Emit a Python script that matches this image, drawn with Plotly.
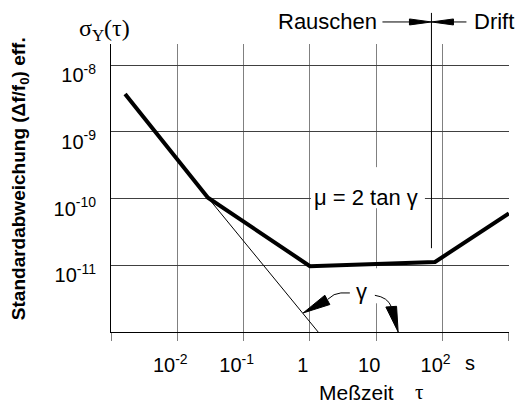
import math
import plotly.graph_objects as go

# ---- data ----
tau_curve = [0.00163, 0.029, 1.0, 77.0, 1000.0]
sigma_curve = [3.67e-9, 1.03e-10, 9.7e-12, 1.12e-11, 6.0e-11]
tau_asym = [0.029, 1.33]
sigma_asym = [1.03e-10, 1.0e-12]

x_tickvals = [1e-3, 1e-2, 1e-1, 1, 10, 100, 1000]
x_ticktext = ["", "10<sup>-2</sup>", "10<sup>-1</sup>", "1", "10", "10<sup>2</sup>", ""]
y_tickvals = [1e-12, 1e-11, 1e-10, 1e-9, 1e-8]
y_ticktext = ["", "10<sup>-11</sup>", "10<sup>-10</sup>", "10<sup>-9</sup>", "10<sup>-8</sup>"]

tau_boundary = 68.0   # Rauschen / Drift boundary
tau_gamma_left = 0.79
sigma_gamma_left = 1.93e-12
tau_gamma_right = 21.4
sigma_gamma_right = 1.0e-12

SANS = "Liberation Sans, Arial, sans-serif"
SERIF = "Liberation Serif, Times New Roman, serif"

fig = go.Figure()
fig.add_trace(go.Scatter(x=tau_curve, y=sigma_curve, mode="lines",
                         line=dict(color="black", width=4), showlegend=False, hoverinfo="skip"))
fig.add_trace(go.Scatter(x=tau_asym, y=sigma_asym, mode="lines",
                         line=dict(color="black", width=1), showlegend=False, hoverinfo="skip"))

fig.update_layout(
    width=518, height=403,
    margin=dict(l=111, r=9, t=44, b=71.3, pad=0, autoexpand=False),
    paper_bgcolor="white", plot_bgcolor="white",
    font=dict(family=SANS, size=20, color="black"),
    showlegend=False,
)
fig.update_xaxes(type="log", range=[-3, 3.002], tickvals=x_tickvals, ticktext=x_ticktext,
                 showgrid=True, gridcolor="#808080", gridwidth=1,
                 ticks="outside", ticklen=8, tickcolor="#808080", tickwidth=1,
                 showline=True, linecolor="black", linewidth=1,
                 ticklabelshift=-7, ticklabelstandoff=7, automargin=False,
                 tickfont=dict(family=SANS, size=20), zeroline=False)
fig.update_yaxes(type="log", range=[-12, -7.685], tickvals=y_tickvals, ticktext=y_ticktext,
                 showgrid=True, gridcolor="#404040", gridwidth=1,
                 ticks="", showline=True, linecolor="black", linewidth=1,
                 ticklabelshift=10, ticklabelstandoff=10, automargin=False,
                 tickfont=dict(family=SANS, size=20), zeroline=False)

shapes = []
white = dict(fillcolor="white", line=dict(width=0), layer="between")
# gaps in grid lines around texts
shapes.append(dict(type="rect", xref="x", yref="y", x0=1.035, x1=54.2,
                   y0=10 ** -10.1, y1=10 ** -9.9, **white))
shapes.append(dict(type="rect", xref="x", yref="y", x0=9.0, x1=11.0,
                   y0=10 ** -10.145, y1=10 ** -9.53, **white))
shapes.append(dict(type="rect", xref="x", yref="y", x0=9.0, x1=11.0,
                   y0=10 ** -11.57, y1=10 ** -11.045, **white))
# boundary line Rauschen / Drift
shapes.append(dict(type="line", xref="x", yref="paper", x0=tau_boundary, x1=tau_boundary,
                   y0=0.291, y1=1.108, line=dict(color="black", width=1)))
ya = 1.0765
for p, fill in [("M-49,0 L-22,0", None), ("M0,0 L-22,3 L-22,-3 Z", "black"),
                ("M35,0 L22,0", None), ("M0,0 L22,3 L22,-3 Z", "black")]:
    d = dict(type="path", xref="x", yref="paper", xsizemode="pixel", ysizemode="pixel",
             xanchor=tau_boundary, yanchor=ya, path=p, line=dict(color="black", width=1))
    if fill:
        d["fillcolor"] = fill
    shapes.append(d)
# gamma arrows
for p, fill in [("M46.7,20 L37.7,20 Q30.7,19.7 24.7,13.7", None),
                ("M0,0 L21.7,17.7 L26.7,8.4 Z", "black")]:
    d = dict(type="path", xref="x", yref="y", xsizemode="pixel", ysizemode="pixel",
             xanchor=tau_gamma_left, yanchor=sigma_gamma_left, path=p,
             line=dict(color="black", width=1))
    if fill:
        d["fillcolor"] = fill
    shapes.append(d)
for p, fill in [("M-23.3,36.7 Q-10.3,34.7 -6.8,25.2", None),
                ("M0,0 L-12.3,25 L-1.6,25.7 Z", "black")]:
    d = dict(type="path", xref="x", yref="y", xsizemode="pixel", ysizemode="pixel",
             xanchor=tau_gamma_right, yanchor=sigma_gamma_right, path=p,
             line=dict(color="black", width=1))
    if fill:
        d["fillcolor"] = fill
    shapes.append(d)
fig.update_layout(shapes=shapes)

ann = []
def A(text, x, y, ref="x", size=22, family=SANS, **kw):
    ann.append(dict(text=text, x=x, y=y,
                    xref="x" if ref == "x" else "paper",
                    yref="y" if ref == "x" else "paper",
                    showarrow=False,
                    font=dict(family=family, size=size, color="black"),
                    xanchor="center", yanchor="middle", **kw))

A("μ = 2 tan γ", 0.844, -9.98)
A("γ", 0.78, -11.39)
A("Rauschen", 0.545, 1.0765, ref="paper")
A("Drift", 0.962, 1.0765, ref="paper")
A("σ<sub>Y</sub>(τ)", -0.0151, 1.0487, ref="paper", family=SERIF, size=24)
A("Meßzeit", 0.6156, -0.2095, ref="paper", size=21)
A("τ", 0.7739, -0.2095, ref="paper", family=SERIF, size=21)
A("s", 0.902, -0.1088, ref="paper", size=20)
A("<b>Standardabweichung (Δf/f<sub>0</sub>) eff.</b>", -0.2286, 0.5308, ref="paper",
  size=19, textangle=-90)
fig.update_layout(annotations=ann)

fig.write_html("out.html", config={"displayModeBar": False},
               post_script="document.body.style.margin='0px';document.body.style.overflow='hidden';")
